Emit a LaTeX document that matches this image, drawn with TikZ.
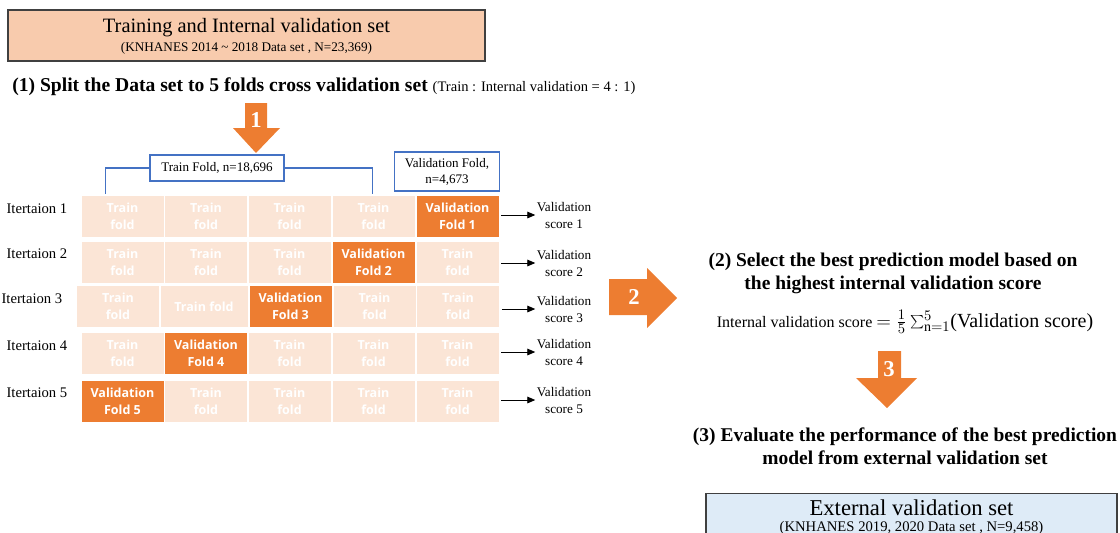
\documentclass[tikz,border=0pt]{standalone}
\usepackage{fontspec}
\setmainfont{Liberation Serif}
\newfontfamily\foldfont{Open Sans}
\usetikzlibrary{arrows.meta, positioning}
\definecolor{melocoton}{RGB}{248,203,173}
\definecolor{naranja}{RGB}{237,125,49}
\definecolor{palido}{RGB}{251,229,214}
\definecolor{azul}{RGB}{68,114,196}
\definecolor{cielo}{RGB}{222,235,247}
\definecolor{gris}{RGB}{64,64,64}

\begin{document}
\begin{tikzpicture}[x=0.75pt, y=-0.75pt,
        dataset/.style={draw=gris, line width=1.1pt, minimum width=357.75pt, minimum height=38.25pt},
        cuenta/.style={draw=azul, line width=0.9pt, fill=white, align=center, inner sep=1pt, font=\fontsize{9.8}{12}\selectfont},
        trainfold/.style={fill=palido, text=white, align=center, inner sep=0pt, minimum width=61.5pt, minimum height=30.75pt, font=\foldfont\bfseries\fontsize{9.4}{12.75}\selectfont},
        valfold/.style={trainfold, fill=naranja},
        iter/.style={anchor=east, font=\fontsize{11}{13}\selectfont},
        score/.style={align=center, inner sep=1pt, font=\fontsize{9.9}{12.75}\selectfont},
        paso/.style={align=center, font=\bfseries\fontsize{14.6}{17.25}\selectfont},
        flecha/.style={-{Triangle[length=6pt, width=5pt]}, line width=0.7pt},
        bigarrow/.style={fill=naranja},
        numero/.style={text=white, font=\bfseries\fontsize{17}{17}\selectfont}
    ]
        \useasboundingbox (0,0) rectangle (1120,532);

        % data set boxes
        \node[dataset, fill=melocoton] (train) at (246.5,35.5) {};
        \node[inner sep=0pt] (traint) at (246.5,28) {\fontsize{15.3}{17}\selectfont Training and Internal validation set};
        \node[inner sep=0pt] (trains) at (246.5,48.5) {\fontsize{9.9}{11}\selectfont (KNHANES 2014 \textasciitilde{} 2018 Data set , N=23,369)};

        \node[dataset, fill=cielo, minimum width=308.25pt, minimum height=45pt, anchor=north] (ext) at (911.5,493) {};
        \node[inner sep=0pt, anchor=base] (extt) at (911.5,515) {\fontsize{17}{19}\selectfont External validation set};
        \node[inner sep=0pt, anchor=base] (exts) at (911.5,531) {\fontsize{11}{12}\selectfont (KNHANES 2019, 2020 Data set , N=9,458)};

        % step titles
        \node[anchor=west, inner sep=0pt] (paso1) at (12,87) {\bfseries\fontsize{14.7}{17}\selectfont (1) Split the Data set to 5 folds cross validation set {\mdseries\fontsize{10.9}{12}\selectfont (Train : Internal validation = 4 : 1)}};
        \node[paso] (paso2) at (893,273.5) {(2) Select the best prediction model based on\\the highest internal validation score};
        \node (formula) at (905,322) {\fontsize{12}{14}\selectfont Internal validation score {\fontsize{15}{17}\selectfont$=\frac{1}{5}\sum_{\mathrm{n}=1}^{5}$(Validation score)}};
        \node[paso] (paso3) at (905,446) {(3) Evaluate the performance of the best prediction\\model from external validation set};

        % orange step arrows
        \fill[bigarrow] (245,103) -- (267,103) -- (267,128) -- (280,128) -- (256,153) -- (233,128) -- (245,128) -- cycle;
        \node[numero] (n1) at (256,120) {1};
        \fill[bigarrow] (609,279) -- (647,279) -- (647,268) -- (677,298) -- (647,328) -- (647,315) -- (609,315) -- cycle;
        \node[numero] (n2) at (634,297) {2};
        \fill[bigarrow] (878,351) -- (901,351) -- (901,378) -- (917,378) -- (887,408) -- (856,378) -- (878,378) -- cycle;
        \node[numero] (n3) at (889,369) {3};

        % folds, row 3 is laid out on its own
        \foreach \fila/\yc/\val in {1/216/5, 2/262/4, 4/353.5/2, 5/401.5/1} {
            \foreach \col/\xc in {1/122.5, 2/206, 3/289.5, 4/373.5, 5/457.5} {
                \ifnum\col=\val\relax
                    \node[valfold] (c\fila\col) at (\xc,\yc) {Validation\\Fold \fila};
                \else
                    \node[trainfold] (c\fila\col) at (\xc,\yc) {Train\\fold};
                \fi
            }
        }
        \node[trainfold] (c31) at (118,306.5) {Train\\fold};
        \node[trainfold, minimum width=65.25pt] (c32) at (204,306.5) {Train fold};
        \node[valfold, minimum width=61.5pt] (c33) at (290.5,306.5) {Validation\\Fold 3};
        \node[trainfold] (c34) at (374.5,306.5) {Train\\fold};
        \node[trainfold] (c35) at (458,306.5) {Train\\fold};

        % iteration labels
        \node[iter] (it1) at (72,209) {Itertaion 1};
        \node[iter] (it2) at (72,254) {Itertaion 2};
        \node[iter] (it3) at (67,299) {Itertaion 3};
        \node[iter] (it4) at (72,346) {Itertaion 4};
        \node[iter] (it5) at (72,393) {Itertaion 5};

        % fold sizes
        \node[cuenta, minimum width=100.5pt, minimum height=19.5pt] (tf) at (217,168) {Train Fold, n=18,696};
        \node[cuenta, minimum width=78.75pt, minimum height=29.25pt] (vf) at (447,171.5) {Validation Fold,\\n=4,673};
        \draw[azul, line width=0.9pt] (tf.west) -| ++(-44,26);
        \draw[azul, line width=0.9pt] (tf.east) -| ++(88,26);

        % scores
        \node[score] (s1) at (564,215) {Validation\\score 1};
        \node[score] (s2) at (564,263) {Validation\\score 2};
        \node[score] (s3) at (564,309) {Validation\\score 3};
        \node[score] (s4) at (564,352) {Validation\\score 4};
        \node[score] (s5) at (564,400) {Validation\\score 5};

        \draw[flecha] ([xshift=2pt]c15.east |- s1.west) -- (s1.west);
        \draw[flecha] ([xshift=2pt]c25.east |- s2.west) -- (s2.west);
        \draw[flecha] ([xshift=2pt]c35.east |- s3.west) -- (s3.west);
        \draw[flecha] ([xshift=2pt]c45.east |- s4.west) -- (s4.west);
        \draw[flecha] ([xshift=2pt]c55.east |- s5.west) -- (s5.west);
    \end{tikzpicture}
\end{document}
